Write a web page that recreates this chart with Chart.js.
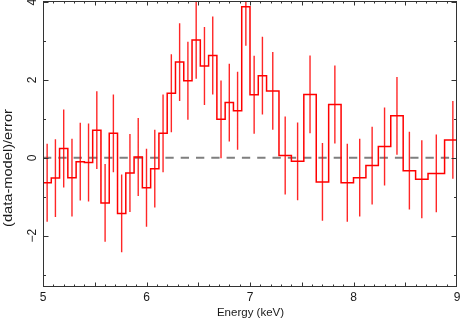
<!DOCTYPE html>
<html>
<head>
<meta charset="utf-8">
<script src="https://cdn.jsdelivr.net/npm/chart.js@4.4.1/dist/chart.umd.min.js"></script>
<style>
  html, body { margin: 0; padding: 0; background: #fff; }
  #wrap { width: 463px; height: 322px; }
</style>
</head>
<body>
<div id="wrap"><canvas id="chart" width="463" height="322"></canvas></div>
<script>
// bin edges in keV (0.08 keV up to 7.16, then 0.12, last two wider)
const BIN_EDGES = [
  5.00, 5.08, 5.16, 5.24, 5.32, 5.40, 5.48, 5.56, 5.64, 5.72,
  5.80, 5.88, 5.96, 6.04, 6.12, 6.20, 6.28, 6.36, 6.44, 6.52,
  6.60, 6.68, 6.76, 6.84, 6.92, 7.00, 7.08, 7.16, 7.28, 7.40,
  7.52, 7.64, 7.76, 7.88, 8.00, 8.12, 8.24, 8.36, 8.48, 8.60,
  8.72, 8.88, 9.04
];
// (data-model)/error per bin
const RESIDUALS = [
  -0.64, -0.52, 0.24, -0.51, -0.10, -0.12, 0.71, -1.16, 0.63, -1.43,
  -0.39, 0.02, -0.77, -0.28, 0.63, 1.66, 2.46, 1.98, 3.03, 2.36,
  2.63, 0.99, 1.42, 1.21, 3.88, 1.62, 2.11, 1.72, 0.06, -0.09,
  1.63, -0.62, 1.37, -0.64, -0.51, -0.20, 0.29, 1.08, -0.33, -0.55,
  -0.40, 0.46
];
const ERRORS = [
  1, 1, 1, 1, 1, 1, 1, 1, 1, 1,
  1, 1, 1, 1, 1, 1, 1, 1, 1, 1,
  1, 1, 1, 1, 1, 1, 1, 1, 1, 1,
  1, 1, 1, 1, 1, 1, 1, 1, 1, 1,
  1, 1
];
const X_TICKS = [5, 6, 7, 8, 9];
const Y_TICKS = [-2, 0, 2, 4];
const X_TITLE = 'Energy (keV)';
const Y_TITLE = '(data-model)/error';

const AXIS_COLOR = '#333333';
const TEXT_COLOR = '#1a1a1a';
const FONT = '"Liberation Sans", Arial, Helvetica, sans-serif';

const stepPoints = [];
RESIDUALS.forEach((v, i) => {
  stepPoints.push({ x: BIN_EDGES[i], y: v }, { x: BIN_EDGES[i + 1], y: v });
});

const errPoints = [];
RESIDUALS.forEach((v, i) => {
  const c = (BIN_EDGES[i] + BIN_EDGES[i + 1]) / 2;
  errPoints.push({ x: c, y: v - ERRORS[i] }, { x: c, y: v + ERRORS[i] }, { x: c, y: null });
});

const zeroLine = [{ x: 5, y: 0 }, { x: 9, y: 0 }];

function line(ctx, x1, y1, x2, y2) {
  ctx.beginPath();
  ctx.moveTo(x1, y1);
  ctx.lineTo(x2, y2);
  ctx.stroke();
}

// frame, inward ticks and labels, in the PGPLOT look
const frame = {
  id: 'frame',
  afterDraw(chart) {
    const { ctx, chartArea: a, scales: { x, y } } = chart;
    const L = Math.round(a.left) + 0.5, R = Math.round(a.right) - 0.5;
    const T = Math.round(a.top) + 0.5, B = Math.round(a.bottom) - 0.5;
    ctx.save();
    ctx.strokeStyle = AXIS_COLOR;
    ctx.lineWidth = 1;
    ctx.strokeRect(L, T, R - L, B - T);

    for (let k = 1; k < 40; k++) {
      const px = Math.round(x.getPixelForValue(5 + k * 0.1)) + 0.5;
      const len = k % 5 === 0 ? 4 : 2;
      line(ctx, px, B, px, B - len);
      line(ctx, px, T, px, T + len);
    }
    for (let v = -3; v <= 4; v++) {
      const py = Math.round(y.getPixelForValue(v)) + 0.5;
      const len = v % 2 === 0 ? 5 : 2.5;
      line(ctx, L, py, L + len, py);
      line(ctx, R, py, R - len, py);
    }

    ctx.fillStyle = TEXT_COLOR;
    ctx.font = '12px ' + FONT;
    ctx.textAlign = 'center';
    ctx.textBaseline = 'middle';
    X_TICKS.forEach(v => {
      ctx.fillText(String(v), x.getPixelForValue(v), 298);
    });
    Y_TICKS.forEach(v => {
      ctx.save();
      ctx.translate(32.5, y.getPixelForValue(v));
      ctx.rotate(-Math.PI / 2);
      ctx.fillText(String(v).replace('-', '\u2212'), 0, 0);
      ctx.restore();
    });

    ctx.font = '11.5px ' + FONT;
    ctx.fillText(X_TITLE, 250.5, 313);

    ctx.font = '12px ' + FONT;
    ctx.save();
    ctx.translate(8.5, 168);
    ctx.rotate(-Math.PI / 2);
    const w = ctx.measureText(Y_TITLE).width;
    ctx.scale(118 / w, 1);
    ctx.fillText(Y_TITLE, 0, 0);
    ctx.restore();
    ctx.restore();
  }
};

new Chart(document.getElementById('chart'), {
  type: 'scatter',
  data: {
    datasets: [
      {
        data: zeroLine,
        showLine: true,
        borderColor: '#7f7f7f',
        borderWidth: 2,
        borderDash: [8.3, 7],
        pointRadius: 0,
        order: 3
      },
      {
        data: errPoints,
        showLine: true,
        spanGaps: false,
        borderColor: 'rgba(255,0,0,0.85)',
        borderWidth: 1.4,
        pointRadius: 0,
        order: 2
      },
      {
        data: stepPoints,
        showLine: true,
        borderColor: '#ff0000',
        borderWidth: 1.5,
        pointRadius: 0,
        order: 1
      }
    ]
  },
  options: {
    responsive: false,
    animation: false,
    events: [],
    layout: { padding: { left: 43, right: 6, top: 1, bottom: 35 } },
    plugins: { legend: { display: false }, tooltip: { enabled: false } },
    scales: {
      x: { type: 'linear', min: 5, max: 9, display: false },
      y: { type: 'linear', min: -3.32, max: 4.03, display: false }
    }
  },
  plugins: [frame]
});
</script>
</body>
</html>
